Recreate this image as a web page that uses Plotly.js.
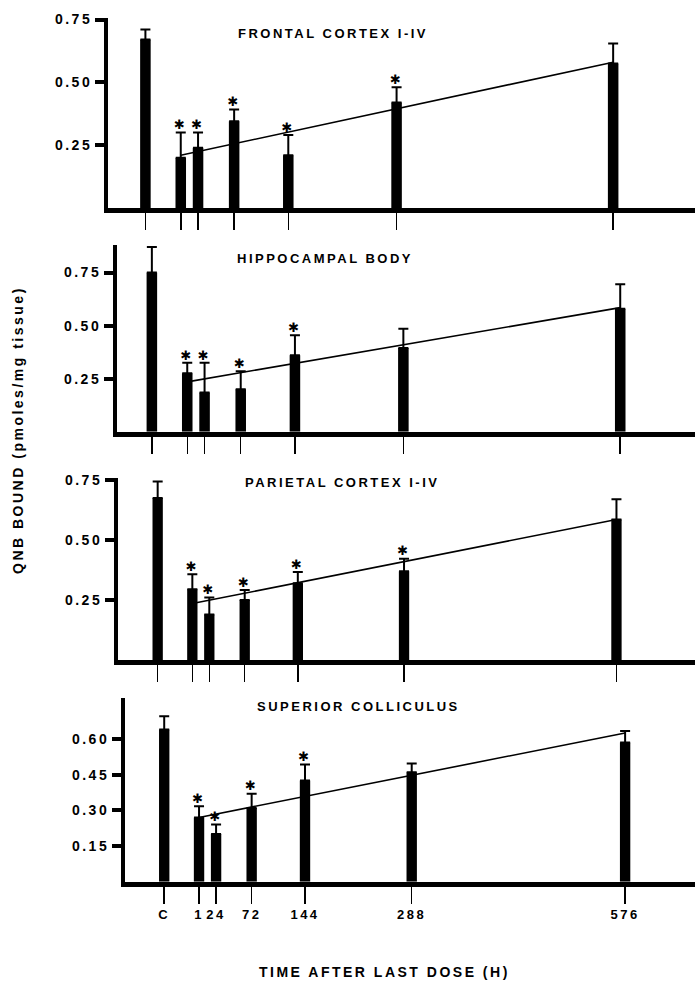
<!DOCTYPE html>
<html>
<head>
<meta charset="utf-8">
<script src="https://cdn.plot.ly/plotly-3.0.1.min.js"></script>
<style>
  html, body { margin: 0; padding: 0; background: #fff; }
  #chart { width: 695px; height: 983px; }
  svg text { letter-spacing: 2.5px; }
</style>
</head>
<body>
<div id="chart"></div>
<script>
// ---------------- DATA ----------------
const categories = ['C', '1', '24', '72', '144', '288', '576'];
const hours = [null, 1, 24, 72, 144, 288, 576];   // hours after last dose (C = control)

const panelTitles = ['FRONTAL CORTEX I-IV', 'HIPPOCAMPAL BODY', 'PARIETAL CORTEX I-IV', 'SUPERIOR COLLICULUS'];

const frontalMean  = [0.67, 0.20, 0.24, 0.345, 0.21, 0.42, 0.575];
const frontalSem   = [0.04, 0.10, 0.06, 0.047, 0.08, 0.06, 0.08];
const frontalSig   = [0, 1, 1, 1, 1, 1, 0];
const frontalFit   = [0.21, 0.58];

const hippoMean    = [0.75, 0.275, 0.185, 0.20, 0.36, 0.395, 0.58];
const hippoSem     = [0.12, 0.05, 0.14, 0.085, 0.095, 0.09, 0.115];
const hippoSig     = [0, 1, 1, 1, 1, 0, 0];
const hippoFit     = [0.235, 0.585];

const parietalMean = [0.675, 0.295, 0.19, 0.25, 0.32, 0.37, 0.585];
const parietalSem  = [0.068, 0.062, 0.07, 0.042, 0.046, 0.052, 0.085];
const parietalSig  = [0, 1, 1, 1, 1, 1, 0];
const parietalFit  = [0.235, 0.585];

const superiorMean = [0.64, 0.27, 0.20, 0.31, 0.425, 0.46, 0.585];
const superiorSem  = [0.055, 0.047, 0.04, 0.06, 0.068, 0.037, 0.048];
const superiorSig  = [0, 1, 1, 1, 1, 0, 0];
const superiorFit  = [0.27, 0.625];

const fitHours = [1, 576];

const frontalTicks  = [0.25, 0.50, 0.75];
const hippoTicks    = [0.25, 0.50, 0.75];
const parietalTicks = [0.25, 0.50, 0.75];
const superiorTicks = [0.15, 0.30, 0.45, 0.60];

// ---------------- LAYOUT ----------------
const W = 695, H = 983;
const CONTROL_X = -46;               // where the control bar sits on the hour axis
const xs = hours.map(h => h === null ? CONTROL_X : h);

const FONT = 'Liberation Sans, Arial, Helvetica, sans-serif';

// pixel geometry of each panel (scanned figure is slightly skewed)
const geo = [
  {axisX: 108, top: 17.5, base: 208,   ymax: 0.758, a: 180.0, b: 0.752},
  {axisX: 117, top: 245,  base: 431.7, ymax: 0.88,  a: 186.5, b: 0.753},
  {axisX: 118, top: 478,  base: 660,   ymax: 0.758, a: 191.6, b: 0.7376},
  {axisX: 125, top: 698,  base: 881.7, ymax: 0.772, a: 198.3, b: 0.741}
];

const panels = [
  {mean: frontalMean,  sem: frontalSem,  sig: frontalSig,  fit: frontalFit,  ticks: frontalTicks},
  {mean: hippoMean,    sem: hippoSem,    sig: hippoSig,    fit: hippoFit,    ticks: hippoTicks},
  {mean: parietalMean, sem: parietalSem, sig: parietalSig, fit: parietalFit, ticks: parietalTicks},
  {mean: superiorMean, sem: superiorSem, sig: superiorSig, fit: superiorFit, ticks: superiorTicks}
];

const titlePos = [
  {x: 333, y: 33}, {x: 325, y: 258}, {x: 342, y: 483}, {x: 358, y: 706}
];

const traces = [];
const layout = {
  width: W, height: H,
  margin: {l: 0, r: 0, t: 0, b: 0},
  paper_bgcolor: '#fff', plot_bgcolor: '#fff',
  showlegend: false,
  font: {family: FONT, color: '#000'},
  annotations: []
};

panels.forEach((p, i) => {
  const g = geo[i];
  const n = i === 0 ? '' : String(i + 1);
  const xa = 'x' + n, ya = 'y' + n;

  traces.push({
    type: 'bar', x: xs, y: p.mean, xaxis: xa, yaxis: ya,
    width: 14,
    marker: {color: '#000', line: {width: 0}},
    error_y: {type: 'data', array: p.sem, symmetric: false,
              arrayminus: p.sem.map(() => 0),
              color: '#000', thickness: 2, width: 5},
    hoverinfo: 'skip'
  });

  traces.push({
    type: 'scatter', mode: 'lines', x: fitHours, y: p.fit,
    xaxis: xa, yaxis: ya,
    line: {color: '#000', width: 1.6}, hoverinfo: 'skip'
  });

  const sx = [], sy = [];
  p.sig.forEach((s, k) => { if (s) { sx.push(xs[k]); sy.push(p.mean[k] + p.sem[k]); } });
  traces.push({
    type: 'scatter', mode: 'text', x: sx, y: sy, xaxis: xa, yaxis: ya,
    text: sx.map(() => '✱'), textposition: 'top center',
    textfont: {family: 'DejaVu Sans', size: 13, color: '#000'},
    cliponaxis: false, hoverinfo: 'skip'
  });

  layout['xaxis' + n] = {
    domain: [g.axisX / W, 1],
    range: [(g.axisX - g.a) / g.b, (W - g.a) / g.b],
    anchor: ya,
    showline: true, linewidth: 5, linecolor: '#000',
    ticks: 'outside', ticklen: 17, tickwidth: 1.5, tickcolor: '#000',
    tickvals: xs, ticktext: categories,
    showticklabels: i === 3,
    tickfont: {family: FONT, size: 13, color: '#000', weight: 'bold'},
    showgrid: false, zeroline: false, fixedrange: true
  };
  layout['yaxis' + n] = {
    domain: [1 - g.base / H, 1 - g.top / H],
    range: [0, g.ymax],
    anchor: xa,
    showline: true, linewidth: 4, linecolor: '#000',
    ticks: 'outside', ticklen: 9, tickwidth: 4, tickcolor: '#000',
    tickvals: p.ticks, tickformat: '.2f',
    tickfont: {family: FONT, size: 14, color: '#000', weight: 'bold'},
    showgrid: false, zeroline: false, fixedrange: true
  };

  layout.annotations.push({
    text: panelTitles[i], xref: 'paper', yref: 'paper',
    x: titlePos[i].x / W, y: 1 - titlePos[i].y / H,
    xanchor: 'center', yanchor: 'middle', showarrow: false,
    font: {family: FONT, size: 13, color: '#000', weight: 'bold'}
  });
});

layout.annotations.push({
  text: 'QNB BOUND (pmoles/mg tissue)', xref: 'paper', yref: 'paper',
  x: 18 / W, y: 1 - 430 / H, textangle: -90,
  xanchor: 'center', yanchor: 'middle', showarrow: false,
  font: {family: FONT, size: 14, color: '#000', weight: 'bold'}
});
layout.annotations.push({
  text: 'TIME AFTER LAST DOSE (H)', xref: 'paper', yref: 'paper',
  x: 384 / W, y: 1 - 972 / H,
  xanchor: 'center', yanchor: 'middle', showarrow: false,
  font: {family: FONT, size: 14, color: '#000', weight: 'bold'}
});

Plotly.newPlot('chart', traces, layout, {displayModeBar: false, staticPlot: true});
</script>
</body>
</html>
